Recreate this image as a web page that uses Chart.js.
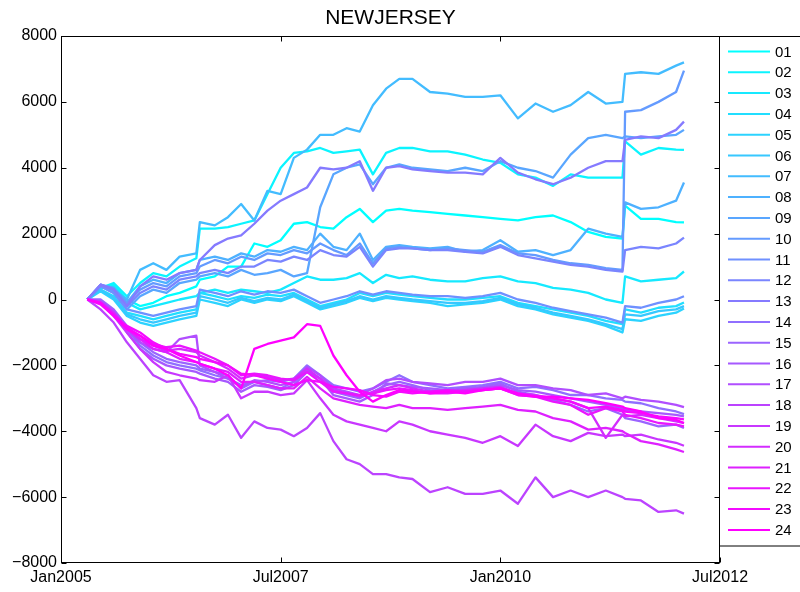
<!DOCTYPE html>
<html>
<head>
<meta charset="utf-8">
<title>NEWJERSEY</title>
<script src="https://cdn.jsdelivr.net/npm/chart.js@4/dist/chart.umd.min.js"></script>
<style>
  html, body { margin: 0; padding: 0; background: #ffffff; }
  canvas { display: block; }
</style>
</head>
<body>
<canvas id="chart" width="800" height="592"></canvas>
<script>
// Sample dates, in fractional years
const years = [2005.30, 2005.45, 2005.60, 2005.75, 2005.90, 2006.05, 2006.20, 2006.35, 2006.54, 2006.58,
  2006.75, 2006.90, 2007.05, 2007.20, 2007.35, 2007.50, 2007.65, 2007.80, 2007.95, 2008.10,
  2008.25, 2008.40, 2008.55, 2008.70, 2008.85, 2009.00, 2009.20, 2009.40, 2009.60, 2009.80,
  2010.00, 2010.20, 2010.40, 2010.60, 2010.80, 2011.00, 2011.20, 2011.39, 2011.42, 2011.60,
  2011.80, 2012.00, 2012.09];

const seriesNames = ['01', '02', '03', '04', '05', '06', '07', '08', '09', '10', '11', '12',
  '13', '14', '15', '16', '17', '18', '19', '20', '21', '22', '23', '24'];

// Cumulative values per series
const s01 = [0, 350, 450, 0, -200, -100, 100, 200, 400, 600, 700, 1000, 1000, 1700, 1600, 1800, 2300, 2350, 2200, 2150, 2500, 2750, 2350, 2700, 2750, 2700, 2650, 2600, 2550, 2500, 2450, 2400, 2500, 2550, 2350, 2050, 1900, 1850, 2850, 2450, 2450, 2350, 2340];
const s02 = [0, 350, 500, 100, 500, 800, 700, 1000, 1250, 2150, 2150, 2200, 2300, 2400, 3200, 4000, 4450, 4500, 4600, 4450, 4500, 4550, 3800, 4450, 4600, 4600, 4500, 4500, 4400, 4250, 4150, 3800, 3700, 3450, 3800, 3700, 3700, 3700, 4800, 4400, 4600, 4550, 4540];
const s03 = [0, 350, 400, -100, -300, -200, -100, 0, 100, 200, 300, 200, 300, 250, 200, 300, 500, 700, 600, 600, 650, 800, 500, 750, 650, 700, 600, 550, 550, 650, 700, 550, 500, 350, 300, 200, 0, -100, 700, 550, 600, 650, 850];
const s04 = [0, 300, 100, -400, -500, -600, -500, -400, -300, 200, 100, 0, 100, 50, 150, 100, 200, 0, -200, -100, 0, 200, 100, 200, 150, 100, 50, 0, 0, 50, 100, -100, -200, -300, -400, -500, -650, -750, -300, -400, -250, -200, -90];
const s05 = [0, 250, 0, -500, -700, -800, -700, -600, -500, 0, -100, -200, 0, -100, 0, -50, 100, -100, -300, -200, -100, 50, -50, 50, 0, -50, -100, -200, -150, -100, 0, -200, -300, -450, -550, -650, -800, -1000, -600, -650, -500, -400, -270];
const s06 = [0, 300, 50, -450, -600, -700, -600, -500, -400, 100, 0, -100, 50, -50, 50, 0, 150, -50, -250, -150, -50, 100, 0, 100, 50, 0, -50, -100, -100, -50, 50, -150, -250, -400, -500, -600, -750, -900, -450, -500, -350, -300, -200];
const s07 = [0, 400, 300, 0, 900, 1100, 900, 1300, 1400, 2350, 2250, 2500, 2900, 2400, 3300, 3200, 4300, 4550, 5000, 5000, 5200, 5100, 5900, 6400, 6700, 6700, 6300, 6250, 6150, 6150, 6200, 5500, 5950, 5700, 5900, 6300, 5950, 6000, 6850, 6900, 6850, 7100, 7200];
const s08 = [0, 400, 250, -100, 400, 600, 500, 800, 900, 1200, 1300, 1200, 1400, 1300, 1500, 1450, 1600, 1500, 2000, 1600, 1500, 2000, 1200, 1600, 1650, 1600, 1550, 1600, 1450, 1500, 1800, 1450, 1500, 1350, 1500, 2150, 2000, 1900, 2950, 2750, 2800, 3000, 3550];
const s09 = [0, 400, 200, -300, 100, 300, 200, 500, 600, 700, 800, 700, 900, 750, 800, 900, 700, 800, 2800, 3800, 4000, 4100, 3500, 4000, 4100, 4000, 3950, 3900, 4000, 3900, 4200, 4000, 3900, 3700, 4400, 4900, 5000, 4900, 4950, 4900, 4950, 5000, 5150];
const s10 = [0, 450, 350, -100, 300, 500, 400, 700, 800, 1000, 1200, 1100, 1300, 1200, 1400, 1350, 1500, 1400, 1700, 1500, 1350, 1700, 1100, 1550, 1600, 1550, 1500, 1550, 1500, 1450, 1650, 1400, 1350, 1200, 1100, 1050, 950, 900, 5700, 5750, 6000, 6300, 6950];
const s11 = [0, 400, 200, -300, -400, -500, -400, -300, -200, 300, 200, 100, 250, 150, 250, 200, 300, 100, -100, 0, 100, 250, 150, 250, 200, 150, 100, 100, 50, 100, 200, 0, -100, -250, -350, -450, -550, -700, -200, -250, -100, 0, 100];
const s12 = [0, 450, 300, -200, 200, 400, 300, 600, 700, 800, 900, 800, 1000, 1000, 1200, 1150, 1300, 1200, 1500, 1350, 1300, 1600, 1000, 1500, 1550, 1550, 1500, 1500, 1450, 1400, 1600, 1350, 1250, 1150, 1050, 1000, 900, 850, 1500, 1600, 1550, 1700, 1880];
const s13 = [0, 450, 300, -200, 400, 700, 600, 800, 900, 1200, 1650, 1850, 1950, 2300, 2700, 3000, 3200, 3400, 4000, 3950, 4000, 4200, 3300, 4000, 4050, 3950, 3900, 3850, 3850, 3800, 4300, 3850, 3650, 3500, 3700, 4000, 4200, 4200, 4850, 4950, 4900, 5150, 5400];
const s14 = [0, -50, -400, -900, -1400, -1700, -1900, -2000, -2100, -2150, -2300, -2400, -2600, -2500, -2450, -2500, -2400, -2000, -2300, -2600, -2700, -2800, -2700, -2500, -2300, -2500, -2600, -2700, -2650, -2600, -2500, -2700, -2650, -2750, -2900, -2900, -3000, -3050, -3100, -3150, -3300, -3400, -3480];
const s15 = [0, 0, -300, -800, -1300, -1600, -1800, -1900, -2000, -2100, -2200, -2300, -2700, -2500, -2600, -2700, -2500, -2150, -2400, -2800, -2900, -3000, -2800, -2600, -2500, -2600, -2750, -2800, -2700, -2650, -2550, -2800, -2900, -3050, -3200, -3400, -3300, -3500, -3600, -3700, -3850, -3800, -3900];
const s16 = [0, -100, -450, -1000, -1500, -1800, -2000, -2100, -2200, -2250, -2400, -2500, -2800, -2600, -2650, -2750, -2600, -2200, -2400, -2900, -3000, -3100, -2900, -2550, -2600, -2650, -2700, -2750, -2700, -2700, -2600, -2750, -2800, -2900, -3000, -3100, -3200, -3300, -3350, -3400, -3450, -3500, -3550];
const s17 = [0, -50, -350, -900, -1300, -1500, -1600, -1200, -1100, -2000, -2200, -2400, -2650, -2450, -2500, -2600, -2500, -2050, -2300, -2700, -2800, -2900, -2700, -2450, -2400, -2500, -2550, -2600, -2500, -2500, -2400, -2600, -2600, -2700, -2750, -2900, -2850, -3000, -2950, -3050, -3100, -3200, -3270];
const s18 = [0, -300, -700, -1300, -1800, -2300, -2500, -2450, -3300, -3600, -3800, -3500, -4200, -3700, -3900, -3950, -4150, -3900, -3450, -4300, -4850, -5000, -5300, -5300, -5400, -5450, -5850, -5700, -5900, -5900, -5800, -6200, -5400, -6000, -5800, -6000, -5800, -6000, -6050, -6100, -6450, -6400, -6500];
const s19 = [0, -100, -500, -1000, -1500, -1900, -2200, -2300, -2400, -2450, -2500, -2300, -3000, -2800, -2800, -2900, -2850, -2450, -3000, -3500, -3700, -3800, -3900, -4000, -3700, -3800, -4000, -4100, -4200, -4350, -4150, -4450, -3800, -4150, -4300, -4050, -4150, -4100, -4150, -4100, -4250, -4350, -4440];
const s20 = [0, -80, -400, -850, -1200, -1400, -1550, -1500, -1600, -1700, -1900, -2100, -2400, -2300, -2350, -2450, -2400, -2100, -2400, -2750, -2850, -2950, -2800, -2700, -2600, -2700, -2800, -2800, -2750, -2700, -2650, -2850, -2900, -3000, -3100, -3300, -4200, -3500, -3550, -3500, -3600, -3700, -3750];
const s21 = [0, -100, -450, -900, -1200, -1500, -1600, -1800, -1900, -1950, -2100, -2200, -2500, -2500, -2600, -2700, -2700, -2350, -2700, -3000, -3100, -3200, -3250, -3300, -3200, -3300, -3300, -3350, -3300, -3250, -3200, -3350, -3400, -3600, -3700, -3950, -3900, -4000, -4050, -4300, -4400, -4550, -4630];
const s22 = [0, -120, -450, -850, -1100, -1350, -1450, -1400, -1550, -1600, -1800, -2000, -2300, -2250, -2300, -2400, -2450, -2200, -2500, -2800, -2850, -2900, -2850, -2750, -2700, -2750, -2850, -2850, -2800, -2750, -2700, -2900, -2950, -3100, -3200, -3500, -3300, -3400, -3500, -3600, -3750, -3800, -3850];
const s23 = [0, -150, -500, -800, -1000, -1300, -1500, -1650, -1750, -1800, -1900, -2000, -2250, -2300, -2400, -2500, -2600, -2450, -2500, -2650, -2700, -2750, -2900, -2950, -2800, -2850, -2800, -2750, -2800, -2750, -2700, -2900, -2950, -3000, -3100, -3300, -3250, -3350, -3400, -3450, -3550, -3600, -3640];
const s24 = [0, -100, -500, -900, -1100, -1400, -1500, -1700, -1900, -1950, -2100, -2300, -2700, -1500, -1350, -1250, -1150, -750, -800, -1700, -2300, -2800, -3100, -2900, -2750, -2800, -2850, -2800, -2850, -2750, -2700, -2850, -2950, -2950, -3000, -3050, -3150, -3250, -3300, -3400, -3600, -3650, -3750];

const seriesValues = [s01, s02, s03, s04, s05, s06, s07, s08, s09, s10, s11, s12,
  s13, s14, s15, s16, s17, s18, s19, s20, s21, s22, s23, s24];

// Axis ticks
const xTickValues = [2005, 2007.5, 2010, 2012.5];
const xTickLabels = ['Jan2005', 'Jul2007', 'Jan2010', 'Jul2012'];
const yTickValues = [-8000, -6000, -4000, -2000, 0, 2000, 4000, 6000, 8000];

const FONT = '"Liberation Sans", Arial, Helvetica, sans-serif';

// cyan -> magenta colour ramp
function coolColor(i, n) {
  const t = i / (n - 1);
  return 'rgb(' + Math.round(255 * t) + ',' + Math.round(255 * (1 - t)) + ',255)';
}

const datasets = seriesValues.map((vals, i) => ({
  label: seriesNames[i],
  data: years.map((x, k) => ({ x: x, y: vals[k] })),
  borderColor: coolColor(i, seriesValues.length),
  backgroundColor: coolColor(i, seriesValues.length),
  borderWidth: 2.3,
  borderJoinStyle: 'round',
  pointRadius: 0,
  tension: 0,
  fill: false,
  order: seriesValues.length - 1 - i   // later series drawn on top
}));

// Title, inward tick marks, axes box and legend box
const decorations = {
  id: 'decorations',
  afterDraw(chart) {
    const ctx = chart.ctx;
    const a = chart.chartArea;
    const xs = chart.scales.x, ys = chart.scales.y;
    ctx.save();

    // title
    ctx.fillStyle = '#000';
    ctx.font = '21px ' + FONT;
    ctx.textAlign = 'center';
    ctx.textBaseline = 'middle';
    ctx.fillText('NEWJERSEY', (a.left + a.right) / 2, 18);

    // axes box
    ctx.strokeStyle = '#000';
    ctx.lineWidth = 1;
    const L = Math.round(a.left) + 0.5, R = Math.round(a.right) - 0.5;
    const T = Math.round(a.top) + 0.5, B = Math.round(a.bottom) - 0.5;
    ctx.strokeRect(L, T, R - L, B - T);

    // tick marks pointing inward on all four sides
    ctx.beginPath();
    yTickValues.forEach(v => {
      const py = Math.round(ys.getPixelForValue(v)) + 0.5;
      ctx.moveTo(L, py); ctx.lineTo(L + 5, py);
      ctx.moveTo(R, py); ctx.lineTo(R - 5, py);
    });
    xTickValues.forEach(v => {
      const px = Math.round(xs.getPixelForValue(v)) + 0.5;
      ctx.moveTo(px, B); ctx.lineTo(px, B - 5);
      ctx.moveTo(px, T); ctx.lineTo(px, T + 5);
    });
    ctx.stroke();

    // legend
    const bx = R, by = T, bw = chart.width - R + 2, bh = 546 - T;
    ctx.fillStyle = '#fff';
    ctx.fillRect(bx, by, bw, bh);
    ctx.strokeRect(bx, by, bw, bh);
    ctx.font = '15px ' + FONT;
    ctx.textAlign = 'left';
    ctx.textBaseline = 'middle';
    chart.data.datasets.forEach((ds, i) => {
      const cy = 51.5 + i * 20.8;
      ctx.strokeStyle = ds.borderColor;
      ctx.lineWidth = 2;
      ctx.beginPath();
      ctx.moveTo(728, cy); ctx.lineTo(770, cy);
      ctx.stroke();
      ctx.fillStyle = '#000';
      ctx.fillText(ds.label, 775, cy + 1);
    });
    ctx.restore();
  }
};

new Chart(document.getElementById('chart'), {
  type: 'line',
  data: { datasets: datasets },
  options: {
    responsive: false,
    animation: false,
    devicePixelRatio: 1,
    layout: { padding: { top: 36, right: 80, left: 0, bottom: 0 } },
    plugins: {
      legend: { display: false },
      title: { display: false },
      tooltip: { enabled: false }
    },
    scales: {
      x: {
        type: 'linear',
        min: 2005,
        max: 2012.5,
        afterBuildTicks: s => { s.ticks = xTickValues.map(v => ({ value: v })); },
        afterFit: s => { s.height = 29; },
        grid: { display: true, drawOnChartArea: false, drawTicks: false },
        border: { display: false },
        ticks: {
          autoSkip: false,
          maxRotation: 0,
          padding: 5,
          color: '#000',
          font: { family: FONT, size: 16 },
          callback: (v, i) => xTickLabels[i]
        }
      },
      y: {
        type: 'linear',
        min: -8000,
        max: 8000,
        afterBuildTicks: s => { s.ticks = yTickValues.map(v => ({ value: v })); },
        afterFit: s => { s.width = 61; },
        grid: { display: true, drawOnChartArea: false, drawTicks: false },
        border: { display: false },
        ticks: {
          padding: 4,
          color: '#000',
          font: { family: FONT, size: 16 },
          callback: v => (v < 0 ? '\u2212' + Math.abs(v) : String(v))
        }
      }
    }
  },
  plugins: [decorations]
});
</script>
</body>
</html>
